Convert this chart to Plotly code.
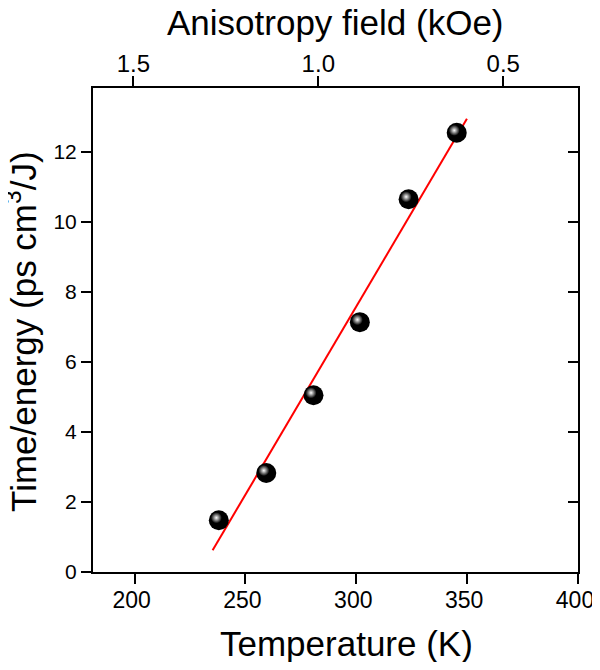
import plotly.graph_objects as go

# Data
temperature_K = [238.0, 259.4, 280.7, 301.6, 323.6, 345.3]
time_per_energy = [1.48, 2.83, 5.05, 7.14, 10.65, 12.55]

fit_T = [235.2, 349.9]
fit_y = [0.62, 12.95]

bottom_ticks = [200, 250, 300, 350, 400]
top_ticks = [1.5, 1.0, 0.5]
top_tick_labels = ["1.5", "1.0", "0.5"]
y_ticks = [0, 2, 4, 6, 8, 10, 12]

x_title = "Temperature (K)"
top_title = "Anisotropy field (kOe)"
y_title = "Time/energy (ps cm<sup>3</sup>/J)"

FONT = "Liberation Sans, Arial, Helvetica, sans-serif"

# highlight offset (sphere shading), in data units
hl_dx = -1.1
hl_dy = 0.07

fig = go.Figure()

fig.add_trace(go.Scatter(
    x=fit_T, y=fit_y, mode="lines",
    line=dict(color="#ff0000", width=2), hoverinfo="skip", showlegend=False))

fig.add_trace(go.Scatter(
    x=temperature_K, y=time_per_energy, mode="markers",
    marker=dict(size=20, color="#000000", line=dict(width=0)),
    showlegend=False))

fig.add_trace(go.Scatter(
    x=[t + hl_dx for t in temperature_K],
    y=[v + hl_dy for v in time_per_energy], mode="markers",
    marker=dict(size=11, color="#000000",
                gradient=dict(type="radial", color="#ffffff"),
                line=dict(width=0)),
    hoverinfo="skip", showlegend=False))

# invisible traces to activate top and right axes
fig.add_trace(go.Scatter(x=[1.0], y=[0], xaxis="x2", yaxis="y", mode="markers",
                         marker=dict(opacity=0), hoverinfo="skip", showlegend=False))
fig.add_trace(go.Scatter(x=[300], y=[0], xaxis="x", yaxis="y2", mode="markers",
                         marker=dict(opacity=0), hoverinfo="skip", showlegend=False))

axis_common = dict(showgrid=False, zeroline=False, showline=True, linecolor="black",
                   linewidth=2, ticks="outside", ticklen=10, tickwidth=2,
                   tickcolor="black", automargin=False)

# page body has an 8px margin, so the figure is offset by (8, 8)
fig.update_layout(
    width=592, height=654,
    margin=dict(l=85, r=22, t=80, b=90),
    paper_bgcolor="white", plot_bgcolor="white",
    font=dict(family=FONT, color="black"),
    xaxis=dict(range=[181.25, 400], tickvals=bottom_ticks,
               tickfont=dict(size=23, family=FONT), ticklabelstandoff=-4,
               ticklabelshift=-3,
               **axis_common),
    xaxis2=dict(overlaying="x", side="top", range=[1.609, 0.298],
                tickvals=top_ticks, ticktext=top_tick_labels,
                tickfont=dict(size=24, family=FONT), ticklabelstandoff=-6,
                **axis_common),
    yaxis=dict(range=[0, 13.83], tickvals=y_ticks,
               tickfont=dict(size=21, family=FONT),
               **axis_common),
    yaxis2=dict(overlaying="y", side="right", range=[0, 13.83], tickvals=y_ticks,
                showticklabels=False, showgrid=False, zeroline=False, showline=True,
                linecolor="black", linewidth=2, ticks="inside", ticklen=10, tickwidth=2,
                tickcolor="black", automargin=False),
    annotations=[
        dict(text=x_title, xref="paper", yref="paper", x=0.522, y=0,
             xanchor="center", yanchor="middle", yshift=-71, showarrow=False,
             font=dict(size=35, family=FONT)),
        dict(text=top_title, xref="paper", yref="paper", x=0.501, y=1,
             xanchor="center", yanchor="middle", yshift=66, showarrow=False,
             font=dict(size=35, family=FONT)),
        dict(text=y_title, xref="paper", yref="paper", x=0, y=0.496,
             xanchor="center", yanchor="middle", xshift=-72, textangle=-90,
             showarrow=False, font=dict(size=35, family=FONT)),
    ],
)

fig.write_html("out.html")
